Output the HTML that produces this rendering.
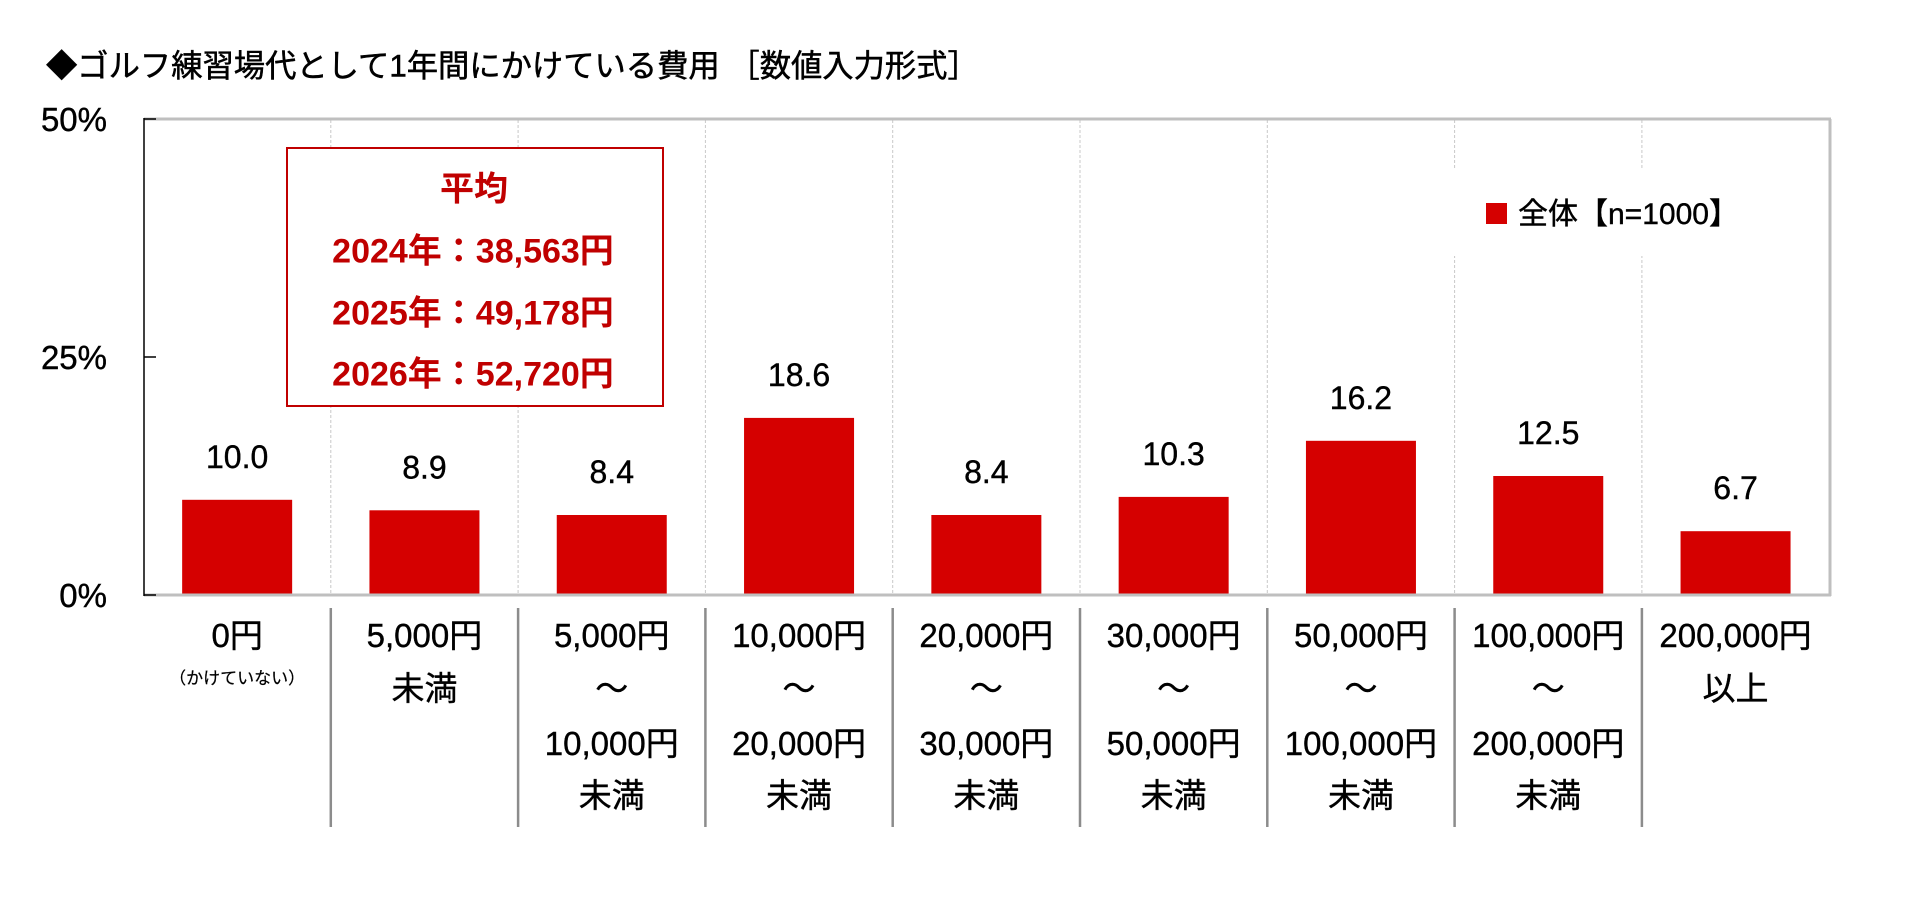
<!DOCTYPE html>
<html><head><meta charset="utf-8"><style>
html,body{margin:0;padding:0;background:#fff;}
svg{display:block;}
</style></head><body>
<svg width="1906" height="904" viewBox="0 0 1906 904" xmlns="http://www.w3.org/2000/svg" font-family="'Liberation Sans','Noto Sans CJK JP',sans-serif">
<rect x="0" y="0" width="1906" height="904" fill="#fff"/>
<!-- title -->
<text x="46" y="76.5" font-size="31.3" fill="#000" stroke="#000" stroke-width="0.5">◆ゴルフ練習場代として1年間にかけている費用 ［数値入力形式］</text>
<!-- dashed gridlines -->
<g stroke="#c8c8c8" stroke-width="1" stroke-dasharray="3,2">
<line x1="330.8" y1="120" x2="330.8" y2="594"/>
<line x1="518.1" y1="120" x2="518.1" y2="594"/>
<line x1="705.4" y1="120" x2="705.4" y2="594"/>
<line x1="892.7" y1="120" x2="892.7" y2="594"/>
<line x1="1080" y1="120" x2="1080" y2="594"/>
<line x1="1267.3" y1="120" x2="1267.3" y2="594"/>
<line x1="1454.6" y1="120" x2="1454.6" y2="594"/>
<line x1="1641.9" y1="120" x2="1641.9" y2="594"/>
</g>
<!-- plot borders -->
<line x1="144" y1="119" x2="1831" y2="119" stroke="#bfbfbf" stroke-width="3"/>
<line x1="1830" y1="119" x2="1830" y2="596" stroke="#bfbfbf" stroke-width="3"/>
<!-- bars -->
<g fill="#d50000">
<rect x="182.15" y="499.8" width="110" height="95.2"/>
<rect x="369.45" y="510.3" width="110" height="84.7"/>
<rect x="556.75" y="515.0" width="110" height="80.0"/>
<rect x="744.05" y="417.9" width="110" height="177.1"/>
<rect x="931.35" y="515.0" width="110" height="80.0"/>
<rect x="1118.65" y="496.9" width="110" height="98.1"/>
<rect x="1305.95" y="440.8" width="110" height="154.2"/>
<rect x="1493.25" y="476.0" width="110" height="119.0"/>
<rect x="1680.55" y="531.2" width="110" height="63.8"/>
</g>
<line x1="144" y1="595" x2="1831" y2="595" stroke="#bfbfbf" stroke-width="3"/>
<!-- left axis -->
<line x1="144" y1="118" x2="144" y2="596" stroke="#000" stroke-width="1.5"/>
<g stroke="#000" stroke-width="1.5">
<line x1="144" y1="119" x2="156" y2="119"/>
<line x1="144" y1="357" x2="156" y2="357"/>
<line x1="144" y1="595" x2="156" y2="595"/>
</g>
<!-- y labels -->
<g font-size="33" fill="#000" stroke="#000" stroke-width="0.4" text-anchor="end">
<text x="107" y="131">50%</text>
<text x="107" y="369">25%</text>
<text x="107" y="607">0%</text>
</g>
<!-- data labels -->
<g font-size="32" fill="#000" stroke="#000" stroke-width="0.4" text-anchor="middle">
<text x="237.15" y="468">10.0</text>
<text x="424.45" y="478.5">8.9</text>
<text x="611.75" y="483">8.4</text>
<text x="799.05" y="386">18.6</text>
<text x="986.35" y="483">8.4</text>
<text x="1173.65" y="465">10.3</text>
<text x="1360.95" y="409">16.2</text>
<text x="1548.25" y="444">12.5</text>
<text x="1735.55" y="499">6.7</text>
</g>
<!-- annotation box -->
<rect x="287" y="148" width="376" height="258" fill="#fff" stroke="#c00000" stroke-width="2"/>
<g font-size="34" font-weight="bold" fill="#c00000" text-anchor="middle">
<text x="474" y="200.5">平均</text>
<text x="473" y="262.5">2024年：38,563円</text>
<text x="473" y="324.5">2025年：49,178円</text>
<text x="473" y="385.5">2026年：52,720円</text>
</g>
<!-- legend -->
<rect x="1440" y="168" width="320" height="88" fill="#fff"/>
<rect x="1486" y="203" width="21" height="21" fill="#d50000"/>
<text x="1518" y="224" font-size="30" fill="#000" stroke="#000" stroke-width="0.4">全体【n=1000】</text>
<!-- category separators -->
<g stroke="#8c8c8c" stroke-width="2.5">
<line x1="330.8" y1="608" x2="330.8" y2="827"/>
<line x1="518.1" y1="608" x2="518.1" y2="827"/>
<line x1="705.4" y1="608" x2="705.4" y2="827"/>
<line x1="892.7" y1="608" x2="892.7" y2="827"/>
<line x1="1080" y1="608" x2="1080" y2="827"/>
<line x1="1267.3" y1="608" x2="1267.3" y2="827"/>
<line x1="1454.6" y1="608" x2="1454.6" y2="827"/>
<line x1="1641.9" y1="608" x2="1641.9" y2="827"/>
</g>
<!-- category labels -->
<g font-size="33" fill="#000" stroke="#000" stroke-width="0.4" text-anchor="middle">
<text x="237.15" y="647">0円</text>
<text x="237.15" y="684" font-size="17" stroke-width="0.2">（かけていない）</text>

<text x="424.45" y="647">5,000円</text>
<text x="424.45" y="700">未満</text>

<text x="611.75" y="647">5,000円</text>
<text x="611.75" y="700">～</text>
<text x="611.75" y="755">10,000円</text>
<text x="611.75" y="807">未満</text>

<text x="799.05" y="647">10,000円</text>
<text x="799.05" y="700">～</text>
<text x="799.05" y="755">20,000円</text>
<text x="799.05" y="807">未満</text>

<text x="986.35" y="647">20,000円</text>
<text x="986.35" y="700">～</text>
<text x="986.35" y="755">30,000円</text>
<text x="986.35" y="807">未満</text>

<text x="1173.65" y="647">30,000円</text>
<text x="1173.65" y="700">～</text>
<text x="1173.65" y="755">50,000円</text>
<text x="1173.65" y="807">未満</text>

<text x="1360.95" y="647">50,000円</text>
<text x="1360.95" y="700">～</text>
<text x="1360.95" y="755">100,000円</text>
<text x="1360.95" y="807">未満</text>

<text x="1548.25" y="647">100,000円</text>
<text x="1548.25" y="700">～</text>
<text x="1548.25" y="755">200,000円</text>
<text x="1548.25" y="807">未満</text>

<text x="1735.55" y="647">200,000円</text>
<text x="1735.55" y="700">以上</text>
</g>
</svg>
</body></html>
